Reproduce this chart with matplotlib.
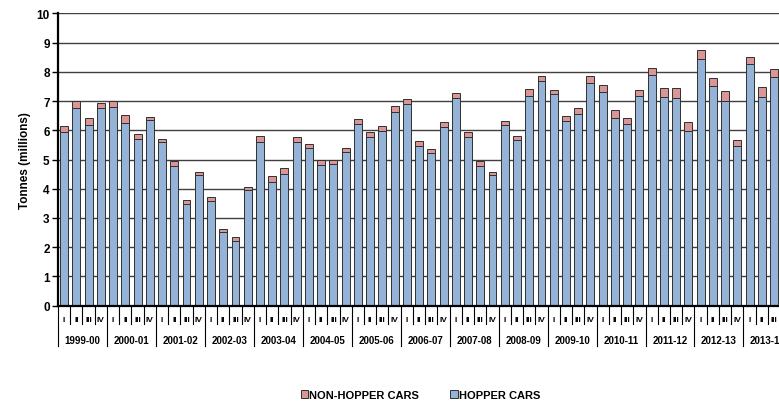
import numpy as np
import matplotlib
matplotlib.use("Agg")
import matplotlib.pyplot as plt

plt.rcParams['font.family'] = ['Liberation Sans', 'DejaVu Sans']

years = ['1999-00', '2000-01', '2001-02', '2002-03', '2003-04', '2004-05', '2005-06',
         '2006-07', '2007-08', '2008-09', '2009-10', '2010-11', '2011-12', '2012-13', '2013-14']
quarters = ['I', 'II', 'III', 'IV']

# hopper cars, millions of tonnes (quarterly)
hopper = [5.95, 6.77, 6.18, 6.76,
          6.81, 6.25, 5.70, 6.36,
          5.59, 4.78, 3.47, 4.46,
          3.58, 2.53, 2.21, 3.96,
          5.59, 4.22, 4.49, 5.59,
          5.38, 4.81, 4.83, 5.27,
          6.23, 5.78, 5.96, 6.64,
          6.91, 5.47, 5.23, 6.10,
          7.12, 5.78, 4.77, 4.46,
          6.18, 5.66, 7.18, 7.70,
          7.23, 6.32, 6.56, 7.61,
          7.30, 6.42, 6.21, 7.16,
          7.89, 7.15, 7.12, 5.97,
          8.44, 7.50, 6.99, 5.47,
          8.26, 7.15, 7.81]
# totals (hopper + non-hopper)
total = [6.13, 7.00, 6.41, 6.92,
         7.00, 6.52, 5.88, 6.47,
         5.70, 4.94, 3.60, 4.58,
         3.71, 2.62, 2.35, 4.07,
         5.79, 4.42, 4.70, 5.76,
         5.52, 4.98, 5.00, 5.39,
         6.37, 5.95, 6.15, 6.82,
         7.06, 5.63, 5.36, 6.27,
         7.27, 5.95, 4.94, 4.58,
         6.31, 5.80, 7.41, 7.87,
         7.37, 6.48, 6.77, 7.87,
         7.56, 6.68, 6.42, 7.37,
         8.13, 7.43, 7.43, 6.27,
         8.76, 7.78, 7.35, 5.67,
         8.49, 7.47, 8.10]

hopper = np.array(hopper)
non_hopper = np.array(total) - hopper
n = len(hopper)
x = np.arange(n)

fig = plt.figure(figsize=(7.79, 4.02), dpi=100)
# axes run past the right edge, the last year is cut off like the original
ax = fig.add_axes([58 / 779, 1 - 306.7 / 402, 60 * 12.24 / 779, 292.4 / 402])

blue = '#95B3D7'
pink = '#D99694'
ax.bar(x, hopper, width=0.65, color=blue, edgecolor='#303030', linewidth=0.7,
       label='HOPPER CARS', zorder=3)
ax.bar(x, non_hopper, bottom=hopper, width=0.65, color=pink, edgecolor='#303030',
       linewidth=0.7, label='NON-HOPPER CARS', zorder=3)

ax.set_xlim(-0.5, 59.5)
ax.set_ylim(0, 10)
ax.set_yticks(range(0, 11))
for v in range(1, 11):
    ax.axhline(v, color='#404040', lw=1.0, zorder=1)

for s in ['top', 'right']:
    ax.spines[s].set_visible(False)
ax.spines['left'].set_linewidth(1.6)
ax.spines['bottom'].set_linewidth(1.6)
ax.spines['left'].set_zorder(4)
ax.spines['bottom'].set_zorder(4)

ax.set_xticks([])
ax.tick_params(axis='y', length=4, width=1, labelsize=8.5, pad=2)
for lab in ax.get_yticklabels():
    lab.set_fontweight('bold')
ax.set_ylabel('Tonnes (millions)', fontsize=8.5, fontweight='bold', labelpad=4)

# two-level category axis
tr = ax.get_xaxis_transform()
h = 292.4
for i in range(n + 1):
    xs = i - 0.5
    if i % 4 == 0:
        ax.plot([xs, xs], [0, -40 / h], transform=tr, color='black', lw=0.8, clip_on=False)
    else:
        ax.plot([xs, xs], [0, -18.3 / h], transform=tr, color='black', lw=0.8, clip_on=False)
for i in range(n):
    ax.text(i, -14 / h, quarters[i % 4], transform=tr, ha='center', va='center',
            fontsize=6, fontweight='bold')
for k, yr in enumerate(years):
    ax.text(4 * k + 1.5, -34 / h, yr, transform=tr, ha='center', va='center',
            fontsize=7, fontweight='bold')

handles, labels = ax.get_legend_handles_labels()
fig.legend(handles[::-1], labels[::-1], loc='center', bbox_to_anchor=(0.54, 0.015),
           ncol=2, frameon=False, prop={'size': 8, 'weight': 'bold'},
           handlelength=0.7, handleheight=0.7, handletextpad=0.1, columnspacing=2.8)

fig.savefig('out.png', dpi=100)
